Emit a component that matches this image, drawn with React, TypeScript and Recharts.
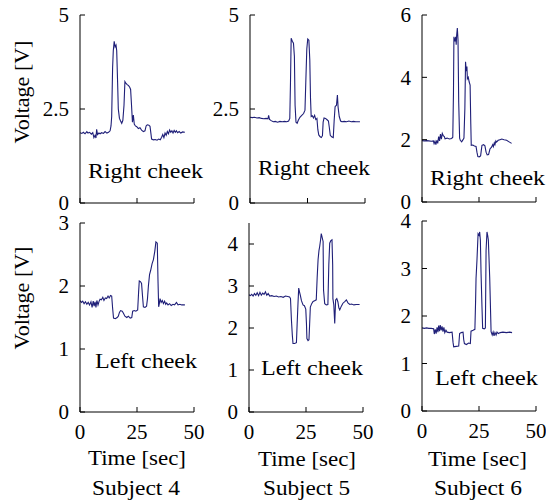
import React from 'react';
import { LineChart, Line, XAxis, YAxis } from 'recharts';

// ---------- data ----------
const subjects = ['Subject 4', 'Subject 5', 'Subject 6'];
const timeTicks = [0, 25, 50];
const ticksS4Right = [0, 2.5, 5];
const ticksS5Right = [0, 2.5, 5];
const ticksS6Right = [0, 2, 4, 6];
const ticksS4Left = [0, 1, 2, 3];
const ticksS5Left = [0, 1, 2, 3, 4];
const ticksS6Left = [0, 1, 2, 3, 4];

// [time sec, voltage V]
const s4Right: [number, number][] = [
  [0, 1.87], [0.8, 1.85], [1.5, 1.88], [2.2, 1.84], [3.0, 1.90], [3.5, 1.86], [4.2, 1.88], [5.0, 1.83],
  [5.6, 1.87], [6.1, 1.74], [6.6, 1.80], [7.0, 1.73], [7.3, 1.96], [7.7, 1.82], [8.3, 1.86], [8.8, 1.84],
  [9.5, 1.87], [10.3, 1.85], [11.0, 1.90], [11.8, 1.86], [12.5, 1.88], [13.2, 1.92], [13.6, 2.05], [13.9, 2.30],
  [14.3, 3.6], [14.6, 4.05], [15.0, 4.30], [15.4, 4.15], [15.8, 4.20], [16.1, 4.05], [16.5, 3.2], [16.8, 2.5],
  [17.3, 2.25], [17.8, 2.18], [18.3, 2.12], [18.8, 2.20], [19.3, 2.6], [19.7, 3.23], [20.2, 3.18], [20.7, 3.15],
  [21.3, 3.12], [21.8, 3.08], [22.2, 3.02], [22.6, 2.6], [23.0, 2.15], [23.4, 2.34], [23.8, 2.10], [24.3, 2.05],
  [24.9, 2.03], [25.6, 1.98], [26.3, 2.00], [27.0, 1.94], [27.8, 1.90], [28.5, 1.92], [29.0, 2.05], [29.5, 2.08],
  [30.2, 2.07], [30.7, 2.04], [31.1, 1.85], [31.4, 1.70], [32.2, 1.68], [33.0, 1.69], [33.8, 1.67], [34.5, 1.70],
  [35.2, 1.68], [35.8, 1.75], [36.3, 1.82], [36.8, 1.74], [37.3, 1.86], [37.8, 1.80], [38.3, 1.90], [38.8, 1.84],
  [39.3, 1.94], [39.8, 1.88], [40.3, 1.92], [40.8, 1.86], [41.3, 1.93], [41.8, 1.88], [42.3, 1.92], [42.8, 1.87],
  [43.5, 1.90], [44.2, 1.86], [45.0, 1.89], [46.0, 1.88],
];

const s5Right: [number, number][] = [
  [0, 2.28], [1, 2.27], [2, 2.28], [3, 2.26], [4, 2.27], [5, 2.25], [6, 2.24], [7, 2.25], [7.8, 2.24],
  [8.1, 2.33], [8.5, 2.22], [9.2, 2.19], [10.1, 2.16], [11, 2.17], [12, 2.15], [13, 2.17], [14, 2.16],
  [15, 2.17], [16, 2.16], [16.8, 2.18], [17.3, 2.25], [17.6, 3.2], [17.9, 4.38], [18.4, 4.30], [18.9, 4.25],
  [19.3, 3.9], [19.6, 2.6], [20.0, 2.15], [20.5, 2.12], [21.0, 2.20], [21.7, 2.28], [22.5, 2.33], [23.3, 2.38],
  [23.9, 2.47], [24.3, 3.3], [24.7, 4.1], [25.1, 4.36], [25.6, 4.33], [26.0, 3.8], [26.3, 2.8], [26.6, 2.30],
  [27.1, 2.32], [27.6, 2.26], [28.1, 2.33], [28.6, 2.22], [29.1, 2.25], [29.5, 1.95], [29.9, 1.81], [30.5, 1.76],
  [31.0, 1.74], [31.5, 1.79], [31.8, 2.15], [32.2, 2.26], [32.8, 2.25], [33.4, 2.22], [34.1, 2.18], [34.5, 2.0],
  [34.9, 1.80], [35.5, 1.76], [36.2, 1.74], [36.6, 2.2], [37.0, 2.56], [37.6, 2.60], [38.0, 2.87], [38.3, 2.55],
  [38.8, 2.30], [39.4, 2.18], [39.9, 2.16], [41, 2.17], [42, 2.16], [43, 2.18], [44, 2.16], [45, 2.17],
  [46, 2.16], [47.8, 2.16],
];

const s6Right: [number, number][] = [
  [0, 1.97], [1, 1.96], [2, 1.97], [3, 1.96], [4, 1.95], [5, 1.96], [5.3, 1.87], [5.7, 1.95], [6.1, 1.84],
  [6.5, 1.98], [6.9, 1.88], [7.3, 2.10], [7.7, 1.96], [8.1, 2.18], [8.5, 2.02], [8.9, 2.20], [9.4, 2.12],
  [9.8, 2.10], [10.1, 2.03], [11, 2.05], [12, 2.02], [13, 2.04], [13.5, 2.08], [13.8, 3.5], [14.0, 5.3],
  [14.4, 5.15], [14.8, 5.3], [15.0, 5.05], [15.2, 5.35], [15.5, 5.58], [15.8, 5.2], [16.1, 3.2], [16.5, 2.05],
  [16.8, 1.98], [17.4, 1.93], [18.0, 2.0], [18.4, 2.05], [18.8, 3.0], [19.1, 4.5], [19.4, 4.2], [19.7, 4.35],
  [19.9, 3.95], [20.3, 4.0], [20.7, 3.85], [21.1, 3.75], [21.4, 2.5], [21.6, 1.82], [22.3, 1.83], [23.0, 1.80],
  [23.7, 1.78], [24.1, 1.6], [24.5, 1.46], [25.1, 1.45], [25.7, 1.48], [26.0, 1.65], [26.3, 1.82], [27.0, 1.84],
  [27.6, 1.80], [28.1, 1.60], [28.6, 1.51], [29.2, 1.52], [29.8, 1.70], [30.5, 1.76], [31.0, 1.84], [31.3, 1.78],
  [31.7, 1.90], [32.0, 1.84], [32.4, 1.96], [32.7, 1.92], [33.4, 1.98], [34.2, 2.00], [35, 2.02], [36, 2.00],
  [37.1, 1.98], [38.2, 1.93], [39.3, 1.88],
];

const s4Left: [number, number][] = [
  [0, 1.77], [0.6, 1.74], [1.2, 1.76], [1.8, 1.72], [2.4, 1.75], [3.0, 1.71], [3.6, 1.74], [4.2, 1.70],
  [4.8, 1.75], [5.3, 1.66], [5.8, 1.76], [6.2, 1.68], [6.6, 1.75], [7.0, 1.66], [7.4, 1.77], [7.9, 1.70],
  [8.4, 1.76], [8.8, 1.79], [9.4, 1.78], [10.0, 1.82], [10.5, 1.77], [11.1, 1.81], [11.7, 1.80], [12.3, 1.84],
  [12.8, 1.81], [13.4, 1.85], [13.9, 1.84], [14.3, 1.65], [14.7, 1.49], [15.5, 1.48], [16.3, 1.50], [16.8, 1.52],
  [17.3, 1.58], [17.8, 1.61], [18.5, 1.60], [19.0, 1.57], [19.7, 1.52], [20.5, 1.50], [21.2, 1.52], [22.0, 1.49],
  [22.7, 1.50], [23.1, 1.60], [23.8, 1.61], [24.5, 1.60], [25.3, 1.62], [25.7, 1.90], [26.0, 2.08], [26.5, 2.07],
  [27.0, 2.04], [27.4, 1.85], [27.8, 1.67], [28.5, 1.66], [29.2, 1.68], [29.6, 1.80], [30.0, 2.0], [30.5, 2.18],
  [31.0, 2.25], [31.6, 2.35], [32.2, 2.42], [32.8, 2.55], [33.3, 2.70], [33.9, 2.68], [34.2, 2.1], [34.5, 1.67],
  [34.8, 1.72], [35.1, 1.80], [35.6, 1.74], [36.1, 1.77], [36.6, 1.72], [37.1, 1.76], [37.6, 1.71], [38.0, 1.73],
  [38.6, 1.70], [39.3, 1.72], [40.0, 1.69], [40.8, 1.71], [41.5, 1.70], [42.3, 1.74], [43.0, 1.70], [43.8, 1.71],
  [44.6, 1.70], [46.0, 1.70],
];

const s5Left: [number, number][] = [
  [0, 2.79], [0.6, 2.77], [1.2, 2.80], [1.8, 2.76], [2.4, 2.82], [3.0, 2.78], [3.6, 2.84], [4.2, 2.77],
  [4.8, 2.85], [5.4, 2.78], [6.0, 2.83], [6.6, 2.80], [7.2, 2.86], [7.8, 2.78], [8.4, 2.82], [9.1, 2.76],
  [10, 2.77], [11, 2.75], [12, 2.76], [13, 2.74], [14, 2.75], [15, 2.73], [16, 2.76], [17, 2.75], [17.8, 2.74],
  [18.2, 2.70], [18.6, 2.2], [19.0, 1.83], [19.3, 1.63], [20.0, 1.63], [20.8, 1.65], [21.1, 2.07], [21.5, 2.6],
  [21.8, 2.95], [22.2, 2.85], [22.5, 2.78], [23.0, 2.65], [23.7, 2.55], [24.3, 2.53], [24.9, 2.45], [25.2, 2.1],
  [25.4, 1.75], [25.9, 1.70], [26.3, 1.72], [26.6, 2.1], [26.9, 2.50], [27.5, 2.58], [28.1, 2.63], [28.8, 2.65],
  [29.5, 2.67], [29.9, 3.2], [30.3, 3.63], [30.7, 3.85], [31.0, 3.94], [31.4, 4.1], [31.7, 4.25], [32.1, 4.15],
  [32.5, 4.06], [32.7, 2.9], [33.2, 2.58], [33.9, 2.55], [34.6, 2.56], [35.0, 3.5], [35.4, 4.02], [35.9, 4.08],
  [36.4, 4.1], [36.7, 3.5], [36.8, 2.7], [37.2, 2.55], [37.6, 2.11], [38.0, 2.67], [38.5, 2.70], [39.0, 2.62],
  [39.4, 2.48], [39.8, 2.43], [40.5, 2.52], [41.2, 2.59], [42.0, 2.63], [42.7, 2.67], [43.4, 2.60], [44.2, 2.56],
  [45, 2.57], [46, 2.55], [47, 2.56], [48.5, 2.56],
];

const s6Left: [number, number][] = [
  [0, 1.75], [1, 1.74], [2, 1.75], [3, 1.74], [4, 1.74], [5.1, 1.73], [5.4, 1.62], [5.8, 1.72], [6.2, 1.63],
  [6.6, 1.76], [7.0, 1.66], [7.3, 1.80], [7.7, 1.68], [8.0, 1.81], [8.4, 1.70], [8.8, 1.78], [9.2, 1.67],
  [9.6, 1.76], [10.0, 1.65], [10.5, 1.70], [11.0, 1.66], [12.0, 1.65], [13.2, 1.66], [13.6, 1.45], [13.9, 1.35],
  [15.0, 1.36], [16.1, 1.37], [16.5, 1.63], [17.2, 1.65], [18.0, 1.66], [18.3, 1.50], [18.6, 1.42], [19.5, 1.40],
  [20.4, 1.43], [21.2, 1.42], [21.5, 1.68], [22.4, 1.70], [23.2, 1.72], [23.5, 2.3], [23.7, 2.79], [24.1, 3.17],
  [24.6, 3.73], [25.0, 3.70], [25.3, 3.77], [25.6, 3.6], [25.9, 2.9], [26.3, 2.2], [26.6, 1.74], [27.3, 1.73],
  [27.8, 1.75], [28.1, 3.38], [28.5, 3.77], [28.8, 3.70], [29.1, 3.6], [29.7, 2.8], [30.3, 1.67], [30.8, 1.60],
  [31.2, 1.66], [31.6, 1.58], [32.0, 1.65], [32.5, 1.60], [32.9, 1.66], [33.5, 1.63], [34.3, 1.65], [35.5, 1.66],
  [37, 1.65], [38.5, 1.66], [39.5, 1.65],
];

// ---------- styling / layout ----------
const FONT = 'Liberation Serif, Tinos, Times New Roman, DejaVu Serif, serif';
const LINE_COLOR = '#1f1f78';

const toRows = (pts: [number, number][]) => pts.map(([t, v]) => ({ t, v }));

type PanelProps = {
  left: number;
  top: number;
  plotW: number;
  plotH: number;
  pts: [number, number][];
  yMax: number;
  yTicks: number[];
  showX: boolean;
};

function Panel({ left, top, plotW, plotH, pts, yMax, yTicks, showX }: PanelProps) {
  const mTop = 14;
  const yW = 44;
  const mRight = 14;
  const xH = 40;
  const width = yW + plotW + mRight;
  const height = mTop + plotH + xH;
  const axisY = mTop + plotH;

  const XTick = (p: any) => {
    const x = p.x;
    return (
      <g>
        <line x1={x} x2={x} y1={axisY} y2={axisY - 5} stroke="#000" strokeWidth={1} />
        {showX && (
          <text x={x} y={axisY + 27} textAnchor="middle" fontSize={21} style={{ fontFamily: FONT }} fill="#000">
            {p.payload.value}
          </text>
        )}
      </g>
    );
  };
  const YTick = (p: any) => {
    const y = p.y;
    return (
      <g>
        <line x1={yW} x2={yW + 5} y1={y} y2={y} stroke="#000" strokeWidth={1} />
        <text x={yW - 11} y={y} dy="0.35em" textAnchor="end" fontSize={21} style={{ fontFamily: FONT }} fill="#000">
          {p.payload.value}
        </text>
      </g>
    );
  };

  return (
    <div style={{ position: 'absolute', left: left - yW, top: top - mTop }}>
      <LineChart
        width={width}
        height={height}
        data={toRows(pts)}
        margin={{ top: mTop, right: mRight, bottom: 0, left: 0 }}
      >
        <XAxis
          type="number"
          dataKey="t"
          domain={[0, 50]}
          ticks={timeTicks}
          interval={0}
          tickSize={0}
          tickMargin={0}
          height={xH}
          axisLine={{ stroke: '#000', strokeWidth: 1 }}
          tickLine={false}
          tick={XTick}
          allowDataOverflow
        />
        <YAxis
          type="number"
          domain={[0, yMax]}
          ticks={yTicks}
          interval={0}
          width={yW}
          tickSize={0}
          tickMargin={0}
          axisLine={{ stroke: '#000', strokeWidth: 1 }}
          tickLine={false}
          tick={YTick}
          allowDataOverflow
        />
        <Line
          type="linear"
          dataKey="v"
          stroke={LINE_COLOR}
          strokeWidth={1.1}
          dot={false}
          isAnimationActive={false}
        />
      </LineChart>
    </div>
  );
}

export default function App() {
  const txt = { fontSize: 22, fill: '#000', style: { fontFamily: FONT } } as const;
  return (
    <div style={{ position: 'absolute', left: 0, top: 0, width: 546, height: 502, background: '#fff', fontFamily: FONT }}>
      <Panel left={80} top={15} plotW={114} plotH={188} pts={s4Right} yMax={5} yTicks={ticksS4Right} showX={false} />
      <Panel left={250} top={15} plotW={115} plotH={188} pts={s5Right} yMax={5} yTicks={ticksS5Right} showX={false} />
      <Panel left={422} top={15} plotW={114} plotH={187} pts={s6Right} yMax={6} yTicks={ticksS6Right} showX={false} />
      <Panel left={80} top={223} plotW={114} plotH={189} pts={s4Left} yMax={3} yTicks={ticksS4Left} showX={true} />
      <Panel left={249} top={223} plotW={114} plotH={189} pts={s5Left} yMax={4.5} yTicks={ticksS5Left} showX={true} />
      <Panel left={422} top={221} plotW={114} plotH={190} pts={s6Left} yMax={4} yTicks={ticksS6Left} showX={true} />
      <svg
        width={546}
        height={502}
        style={{ position: 'absolute', left: 0, top: 0, pointerEvents: 'none' }}
      >
        <text {...txt} x={28.5} y={92} textAnchor="middle" transform="rotate(-90 28.5 92)">Voltage [V]</text>
        <text {...txt} x={28.5} y={298} textAnchor="middle" transform="rotate(-90 28.5 298)">Voltage [V]</text>

        <text {...txt} x={88} y={178} textLength={115} lengthAdjust="spacingAndGlyphs">Right cheek</text>
        <text {...txt} x={258} y={175} textLength={112} lengthAdjust="spacingAndGlyphs">Right cheek</text>
        <text {...txt} x={430} y={185} textLength={115} lengthAdjust="spacingAndGlyphs">Right cheek</text>

        <text {...txt} x={95} y={368} textLength={102} lengthAdjust="spacingAndGlyphs">Left cheek</text>
        <text {...txt} x={261} y={375} textLength={102} lengthAdjust="spacingAndGlyphs">Left cheek</text>
        <text {...txt} x={435} y={385} textLength={103} lengthAdjust="spacingAndGlyphs">Left cheek</text>

        <text {...txt} x={88} y={465} textLength={98} lengthAdjust="spacingAndGlyphs">Time [sec]</text>
        <text {...txt} x={258} y={466} textLength={98} lengthAdjust="spacingAndGlyphs">Time [sec]</text>
        <text {...txt} x={428} y={466} textLength={99} lengthAdjust="spacingAndGlyphs">Time [sec]</text>

        <text {...txt} x={92} y={495} textLength={88} lengthAdjust="spacingAndGlyphs">{subjects[0]}</text>
        <text {...txt} x={263} y={495} textLength={87} lengthAdjust="spacingAndGlyphs">{subjects[1]}</text>
        <text {...txt} x={434} y={495} textLength={88} lengthAdjust="spacingAndGlyphs">{subjects[2]}</text>
      </svg>
    </div>
  );
}
